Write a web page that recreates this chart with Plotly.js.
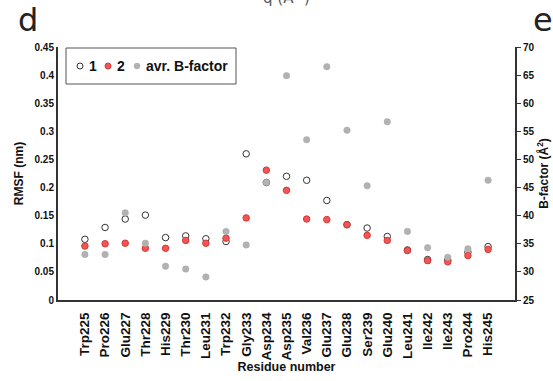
<!DOCTYPE html>
<html><head><meta charset="utf-8">
<script src="https://cdn.plot.ly/plotly-3.0.1.min.js"></script>
<style>body{margin:0;background:#fff}#c{width:553px;height:381px}</style>
</head><body><div id="c"></div>
<script>
const residues = ["Trp225","Pro226","Glu227","Thr228","His229","Thr230","Leu231","Trp232","Gly233","Asp234","Asp235","Val236","Glu237","Glu238","Ser239","Glu240","Leu241","Ile242","Ile243","Pro244","His245"];
const rmsf1 = [0.108,0.129,0.144,0.151,0.111,0.114,0.109,0.104,0.260,0.209,0.220,0.213,0.177,0.134,0.128,0.113,0.089,0.072,0.071,0.085,0.095];
const rmsf2 = [0.096,0.100,0.101,0.092,0.092,0.106,0.101,0.110,0.146,0.231,0.195,0.144,0.143,0.134,0.115,0.106,0.088,0.070,0.068,0.079,0.090];
const bfactor = [33.1,33.1,40.5,35.1,31.0,30.5,29.1,37.2,34.8,45.9,64.9,53.5,66.5,55.2,45.3,56.7,37.2,34.3,32.6,34.1,46.3];
const seriesNames = ["1", "2", "avr. B-factor"];

const F = "Liberation Sans, Arial, sans-serif";
const W = 553, H = 381, ML = 58, MR = 38, MT = 47, MB = 81;
const PW = W - ML - MR, PH = H - MT - MB;
const px = v => (v - ML) / PW;           // pixel -> paper x
const py = v => (H - MB - v) / PH;       // pixel -> paper y

const styles = [
  {size: 6.5, color: "#ffffff", line: {color: "#333333", width: 1}},
  {size: 6.5, color: "#f05656", line: {color: "#d93535", width: 1}},
  {size: 6.5, color: "#b2b2b2", line: {color: "#aaaaaa", width: 0.5}}
];
const traces = [
  {x: residues, y: rmsf1, name: seriesNames[0], type: "scatter", mode: "markers", marker: styles[0]},
  {x: residues, y: rmsf2, name: seriesNames[1], type: "scatter", mode: "markers", marker: styles[1]},
  {x: residues, y: bfactor, name: seriesNames[2], type: "scatter", mode: "markers", yaxis: "y2", marker: styles[2]}
];

// custom legend (box, symbols, labels)
const legSym = [80, 108, 137], legTxt = [87, 115, 144], legY = 66;
const shapes = [
  {type: "rect", xref: "paper", yref: "paper", x0: px(66), x1: px(236), y0: py(84), y1: py(48),
   line: {color: "#555", width: 1}, fillcolor: "#fff", layer: "above"}
];
const annotations = [];
legSym.forEach((cx, i) => {
  shapes.push({type: "circle", xref: "paper", yref: "paper", x0: px(cx - 3), x1: px(cx + 3),
    y0: py(legY + 3), y1: py(legY - 3), fillcolor: styles[i].color,
    line: {color: styles[i].line.color, width: styles[i].line.width}, layer: "above"});
  annotations.push({text: seriesNames[i], xref: "paper", yref: "paper", x: px(legTxt[i]), y: py(legY),
    xanchor: "left", yanchor: "middle", showarrow: false,
    font: {family: F, size: 14, weight: "bold", color: "#111"}});
});
annotations.push(
  {text: "d", xref: "paper", yref: "paper", x: px(16), y: py(20), xanchor: "left", yanchor: "middle",
   showarrow: false, font: {family: "DejaVu Sans, sans-serif", size: 32, color: "#222"}},
  {text: "e", xref: "paper", yref: "paper", x: px(531), y: py(20), xanchor: "left", yanchor: "middle",
   showarrow: false, font: {family: "DejaVu Sans, sans-serif", size: 32, color: "#222"}},
  {text: "q (Å<sup>-1</sup>)", xref: "paper", yref: "paper", x: px(286), y: py(9), xanchor: "center", yanchor: "bottom",
   showarrow: false, font: {family: "DejaVu Sans, sans-serif", size: 15, color: "#555"}}
);

const layout = {
  width: W, height: H,
  margin: {l: ML, r: MR, t: MT, b: MB},
  paper_bgcolor: "#fff", plot_bgcolor: "#fff",
  font: {family: F, color: "#111"},
  showlegend: false,
  xaxis: {type: "category", showline: true, linecolor: "#333", linewidth: 2,
    ticks: "", showgrid: false, zeroline: false, tickangle: -90, ticklabelstandoff: 5,
    tickfont: {family: F, size: 13.5, weight: "bold", color: "#111"},
    title: {text: "Residue number", font: {family: F, size: 12.5, weight: "bold", color: "#111"}, standoff: 0}},
  yaxis: {range: [0, 0.45], dtick: 0.05, showline: true, linecolor: "#333", linewidth: 2,
    ticks: "", showgrid: false, zeroline: false,
    tickfont: {family: F, size: 10, weight: "bold", color: "#111"},
    title: {text: "RMSF (nm)", font: {family: F, size: 12, weight: "bold", color: "#111"}, standoff: 8}},
  yaxis2: {overlaying: "y", side: "right", range: [25, 70], dtick: 5, showline: true,
    linecolor: "#333", linewidth: 2, ticks: "outside", ticklen: 4, tickcolor: "#333",
    showgrid: false, zeroline: false,
    tickfont: {family: F, size: 10, weight: "bold", color: "#111"},
    title: {text: "B-factor (Å<sup>2</sup>)", font: {family: F, size: 12, weight: "bold", color: "#111"}, standoff: 6}},
  shapes: shapes,
  annotations: annotations
};
Plotly.newPlot("c", traces, layout, {displayModeBar: false, staticPlot: true});
</script></body></html>
